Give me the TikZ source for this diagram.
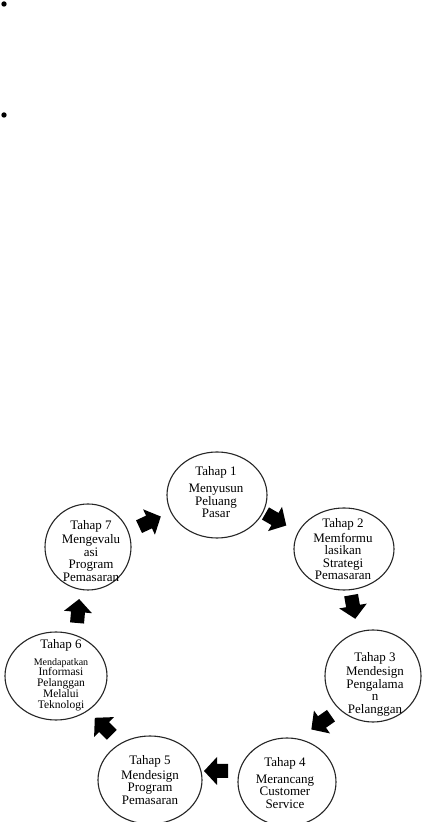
\documentclass[tikz,border=0pt]{standalone}
\usepackage{fontspec}
\setmainfont{Liberation Serif}
\usetikzlibrary{shapes.geometric}
\begin{document}
\begin{tikzpicture}[x=1pt,y=1pt]
\tikzset{
  stage/.style={draw=black!85, line width=1.1pt, ellipse, inner sep=0pt},
  stagetext/.style={align=center, inner sep=0pt, text=black,
     font=\fontsize{13}{12.5}\selectfont},
  blockarrow/.style={fill=black},
  bulletdot/.style={fill=black}
}
\useasboundingbox (0,0) rectangle (422,822);
\fill[white] (0,0) rectangle (422,822);
% bullets
\fill[bulletdot] (4,818) circle (2.7);
\fill[bulletdot] (4,707) circle (2.7);
% circles
\node[stage, minimum width=100pt, minimum height=86pt] (c1) at (217,327) {};
\node[stage, minimum width=86pt, minimum height=86pt] (c7) at (88,275) {};
\node[stage, minimum width=100pt, minimum height=82pt] (c2) at (344,273) {};
\node[stage, minimum width=96pt, minimum height=92pt] (c3) at (373,146) {};
\node[stage, minimum width=98pt, minimum height=88pt] (c4) at (287,40) {};
\node[stage, minimum width=104pt, minimum height=88pt] (c5) at (150,42) {};
\node[stage, minimum width=102pt, minimum height=88pt] (c6) at (56,146) {};
% texts
\node[stagetext] (t1) at (216,330) {Tahap 1\\[5pt]Menyusun\\Peluang\\Pasar};
\node[stagetext] (t7) at (91,271) {Tahap 7\\[1.5pt]Mengevalu\\asi\\Program\\Pemasaran};
\node[stagetext] (t2) at (343,273) {Tahap 2\\[2.5pt]Memformu\\lasikan\\Strategi\\Pemasaran};
\node[stagetext] (t3) at (375,138) {Tahap 3\\[2pt]Mendesign\\Pengalama\\n\\Pelanggan};
\node[stagetext] (t4) at (285,39) {Tahap 4\\[4pt]Merancang\\Customer\\Service};
\node[stagetext] (t5) at (150,42) {Tahap 5\\[2.5pt]Mendesign\\Program\\Pemasaran};
\node[stagetext, font=\fontsize{11.5}{10.7}\selectfont] (t6) at (61,147)
  {{\fontsize{13}{13}\selectfont Tahap 6}\\[6pt]{\fontsize{10}{10}\selectfont Mendapatkan}\\Informasi\\Pelanggan\\Melalui\\Teknologi};
% block arrows
\foreach \x/\y/\r in {149/300/25, 275/303/-30, 353/216/-80, 322/100/-145, 217/51/180, 104/95/135, 78/210/85}{
  \fill[blockarrow, shift={(\x,\y)}, rotate=\r]
    (-11,-7) -- (0,-7) -- (0,-14) -- (13,0) -- (0,14) -- (0,7) -- (-11,7) -- cycle;
}
\end{tikzpicture}
\end{document}
